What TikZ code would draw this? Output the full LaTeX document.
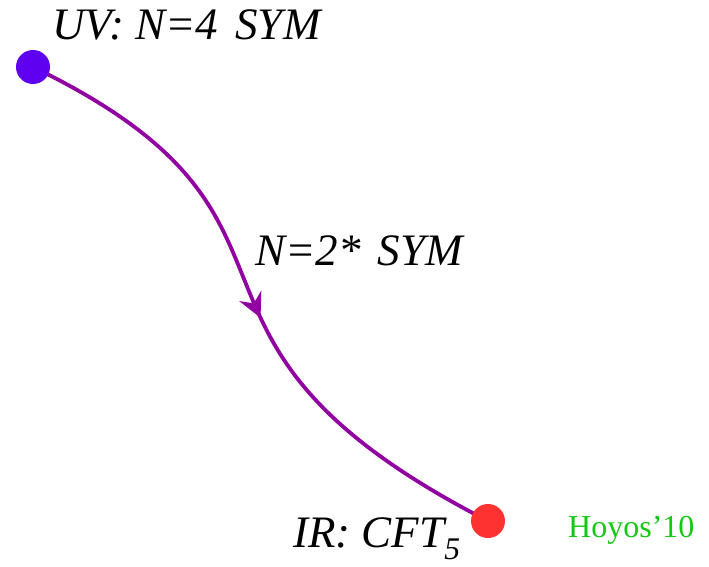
\documentclass[tikz,border=0pt]{standalone}
\usepackage{fontspec}
\setmainfont{Liberation Serif}
\usetikzlibrary{arrows.meta,decorations.markings,backgrounds}
\definecolor{flowPurple}{RGB}{145,0,160}
\definecolor{uvBlue}{RGB}{95,0,240}
\definecolor{irRed}{RGB}{255,50,50}
\definecolor{citeGreen}{RGB}{20,200,20}

\begin{document}
\begin{tikzpicture}[x=1pt, y=-1pt,
    dot/.style={circle, inner sep=0pt, minimum size=34pt},
    lbl/.style={anchor=base west, inner sep=0pt, font=\fontsize{45}{50}\selectfont\itshape},
    flow/.style={flowPurple, line width=3.8pt,
                 decoration={markings, mark=at position 0.53 with
                   {\arrow{Stealth[length=24pt, width=24pt, inset=8pt]}}},
                 postaction={decorate}}
  ]
  \useasboundingbox (0,0) rectangle (709,567);

  % fixed points of the flow
  \node[dot, fill=uvBlue] (uv) at (33,67) {};
  \node[dot, fill=irRed]  (ir) at (488,521) {};

  % labels
  \node[lbl] (uvlbl) at (52,40) {UV: N=4\hspace{0.38em}SYM};
  \node[lbl] (mid)   at (255,265) {N=2*\hspace{0.38em}SYM};
  \node[lbl] (irlbl) at (293,547) {IR: CFT$_{\mathit{5}}$};
  \node[anchor=base west, inner sep=0pt, text=citeGreen,
        font=\fontsize{32}{36}\selectfont] (cite) at (568,537) {Hoyos’10};

  % RG flow
  \begin{scope}[on background layer]
    \draw[flow] (uv.center) .. controls +(320,155) and +(-360,-185) .. (ir.center);
  \end{scope}
\end{tikzpicture}
\end{document}
